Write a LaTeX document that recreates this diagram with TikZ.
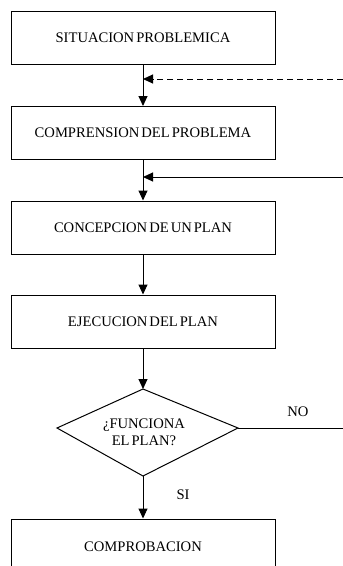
\documentclass[tikz,border=0pt]{standalone}
\usepackage{fontspec}
\setmainfont{Liberation Serif}[WordSpace=0.55]
\usetikzlibrary{arrows.meta}
\begin{document}
\begin{tikzpicture}[x=1pt,y=-1pt,
  every node/.style={font=\fontsize{14.6}{17}\selectfont},
  stepbox/.style={draw, line width=1pt, minimum width=264pt, minimum height=53pt, inner sep=0pt},
  flow/.style={line width=1pt, -{Triangle[length=10pt,width=9pt]}},
  plain/.style={line width=1pt},
  tag/.style={inner sep=0pt, align=center}]
\fill[white] (0,0) rectangle (343,566);
\useasboundingbox (0,0) rectangle (343,566);

% process steps
\node[stepbox] (s1) at (143,37.5) {SITUACION PROBLEMICA};
\node[stepbox] (s2) at (143,133) {COMPRENSION DEL PROBLEMA};
\node[stepbox] (s3) at (143,227.5) {CONCEPCION DE UN PLAN};
\node[stepbox] (s4) at (143,321.5) {EJECUCION DEL PLAN};
\node[stepbox, minimum height=62pt] (s5) at (143,550) {};
\node[tag] (s5t) at (143,547) {COMPROBACION};

% decision
\coordinate (qt) at (143,389);
\coordinate (ql) at (57,428);
\coordinate (qb) at (143,476);
\coordinate (qr) at (238,428);
\draw[plain, line join=miter] (qt) -- (qr) -- (qb) -- (ql) -- cycle;
\node[tag] (q) at (144,432) {¿FUNCIONA\\EL PLAN?};

% main flow
\draw[flow] (s1.south) -- (s2.north);
\draw[flow] (s2.south) -- (s3.north);
\draw[flow] (s3.south) -- (s4.north);
\draw[flow] (s4.south) -- (qt);
\draw[flow] (qb) -- (s5.north);

% returns entering from the right
\coordinate (r1) at (343,79);
\coordinate (r2) at (343,177);
\coordinate (r3) at (343,428);
\draw[flow, dash pattern=on 6pt off 4pt] (r1) -- (r1 -| s1.south);
\draw[flow] (r2) -- (r2 -| s2.south);
\draw[plain] (qr) -- (r3);

% branch labels
\node[tag] (no) at (298,412) {NO};
\node[tag] (si) at (183,494.5) {SI};
\end{tikzpicture}
\end{document}
